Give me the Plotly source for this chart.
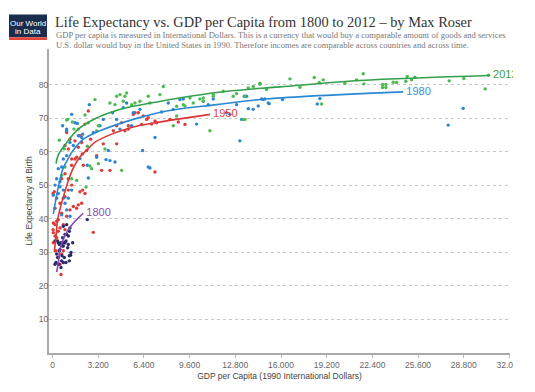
import plotly.graph_objects as go

# ---------------- data ----------------
x_tick_vals = [0, 3200, 6400, 9600, 12800, 16000, 19200, 22400, 25600, 28800, 32000]
x_tick_text = ["0", "3.200", "6.400", "9.600", "12.800", "16.000", "19.200", "22.400", "25.600", "28.800", "32.000"]
y_tick_vals = [10, 20, 30, 40, 50, 60, 70, 80]

years = ["1800", "1950", "1980", "2012"]

pts_1800 = [(175, 33.4), (408, 32.9), (525, 30.9), (641, 32.4), (758, 31.9), (875, 32.9), (1108, 32.4),
            (1224, 37.3), (991, 38.3), (875, 35.4), (1108, 34.9), (758, 37.8), (291, 29.5), (175, 26.5),
            (641, 27.5), (758, 27.0), (1271, 29.2), (408, 28.5), (2438, 39.8), (362, 33.4), (478, 32.4),
            (595, 32.9), (712, 31.9), (828, 32.9), (945, 33.4), (478, 30.4), (665, 29.0), (362, 28.5),
            (245, 27.0), (432, 26.5), (828, 28.5), (1062, 31.4), (1178, 29.0), (1295, 30.0), (712, 34.4),
            (991, 35.4), (1178, 36.3), (1412, 32.9), (595, 25.5), (945, 27.0), (1178, 27.5)]

pts_1950 = [(991, 65.8), (1224, 63.8), (1574, 63.3), (1924, 64.8), (2041, 62.8), (2274, 68.3), (2508, 72.2),
            (2671, 63.8), (1924, 48.1), (2111, 48.6), (2274, 47.6), (2158, 56.0), (1574, 57.9), (1341, 56.0),
            (3441, 54.5), (4258, 66.3), (4491, 67.8), (5074, 66.3), (5307, 66.8), (5657, 71.2), (6007, 71.7),
            (6357, 70.7), (6590, 69.7), (6940, 68.3), (7174, 54.0), (7291, 68.7),
            (875, 61.9), (1108, 60.9), (1342, 57.9), (1692, 58.4), (642, 52.0), (875, 53.5), (1108, 52.0),
            (1808, 61.4), (2088, 59.4), (2391, 60.4), (3091, 58.9), (3558, 62.4), (4025, 54.5), (4491, 62.4),
            (4841, 68.7), (5308, 67.8), (5775, 71.7), (6241, 68.2), (6708, 70.2),
            (7175, 69.2), (8225, 69.7), (8808, 68.9), (9275, 68.2),
            (128, 48.1), (292, 46.2), (525, 44.7), (175, 43.2), (642, 41.7), (408, 39.8), (58, 38.8),
            (758, 38.3), (992, 40.8), (1225, 42.7), (1458, 43.7), (1692, 43.2), (1808, 44.2), (2041, 44.7),
            (875, 46.6), (1108, 48.6), (1342, 50.1), (40, 47.6), (40, 36.8), (175, 34.9),
            (58, 32.9), (291, 34.4), (408, 36.3), (175, 38.3), (291, 39.3), (525, 37.3), (641, 29.5),
            (758, 30.5), (525, 26.5), (594, 23.4), (2857, 36.0), (875, 36.8), (58, 35.9), (245, 30.5)]

pts_1980 = [(58, 47.1), (711, 67.8), (991, 66.3), (1341, 71.2), (1738, 68.5), (1924, 58.0), (2111, 65.3),
            (2578, 74.1), (2438, 56.0), (2508, 52.2), (2858, 65.8), (3091, 58.4), (3324, 67.8), (3558, 69.7),
            (3744, 57.7), (3908, 60.4), (4024, 57.4), (4210, 71.7), (4374, 57.0), (4491, 69.7), (4724, 66.8),
            (4957, 73.2), (5190, 74.6), (5540, 67.8), (5657, 71.7), (6124, 72.7), (6310, 60.4), (6707, 55.5),
            (7174, 64.3), (7641, 71.9), (8107, 74.6), (8457, 72.7), (8923, 75.6), (10090, 68.3), (11256, 75.8),
            (13122, 63.3), (13239, 69.7), (13589, 76.6), (14056, 72.7), (14406, 73.7), (14756, 75.6),
            (15106, 74.6), (9158, 75.8), (10558, 75.1), (10908, 74.1), (12191, 71.7), (12424, 71.2),
            (12891, 74.1), (13428, 76.6), (13708, 72.9), (14641, 75.8), (14875, 75.8), (6825, 55.2),
            (15178, 74.4), (16111, 75.6), (18538, 74.3), (18724, 75.9), (27707, 68.0), (28757, 73.0),
            (175, 50.1), (408, 47.6), (758, 46.2), (875, 44.7), (1108, 46.2), (992, 42.7), (1225, 40.8),
            (642, 41.2), (758, 48.6), (525, 49.6), (1342, 48.6), (408, 55.0), (642, 55.5), (758, 57.9),
            (992, 58.9), (1225, 62.8), (1458, 61.9), (1808, 64.8), (2041, 64.3), (992, 66.8), (292, 52.0),
            (525, 51.1), (1575, 68.7)]

pts_2012 = [(478, 63.5), (828, 60.9), (991, 69.5), (1388, 68.9), (1504, 66.8), (1808, 66.8), (2274, 71.0),
            (2438, 61.7), (2624, 55.8), (2344, 49.5), (2974, 75.6), (3091, 66.3), (3208, 67.8), (4024, 74.6),
            (4491, 76.6), (4840, 54.5), (4957, 75.1), (5190, 77.6), (5540, 74.1), (5773, 74.6), (6124, 75.1),
            (6707, 76.6), (6824, 74.6), (7523, 77.1), (7757, 79.5), (9273, 73.7), (9623, 76.1), (10323, 75.8),
            (10556, 75.1), (11023, 66.3), (11256, 76.6), (11956, 78.1), (12656, 76.6), (13356, 69.7),
            (13706, 79.1), (14522, 80.2), (14989, 78.6), (1062, 69.7), (2508, 68.7), (2741, 55.0),
            (3208, 56.5), (3675, 60.9), (4375, 74.1), (4725, 77.1), (5075, 76.6), (1692, 51.5), (1342, 52.0),
            (875, 55.5), (642, 53.0), (8692, 73.6), (9158, 74.1), (9858, 74.6), (10558, 76.1), (11258, 77.1),
            (12891, 77.4), (13475, 76.6), (13475, 69.7), (14058, 79.5), (8458, 67.8), (8691, 70.7),
            (14525, 80.5), (16625, 81.8), (17325, 79.3), (18328, 82.2), (18678, 80.7), (18958, 81.5),
            (20474, 80.5), (21291, 81.5), (21757, 83.3), (21804, 80.3), (23111, 80.1), (23111, 79.2),
            (23344, 80.1), (23344, 79.2), (23857, 80.8), (24090, 80.7), (24743, 81.1), (24837, 82.5),
            (25140, 81.5), (25374, 82.3), (27776, 81.2), (28802, 81.9), (30296, 78.8), (30529, 82.9),
            (18842, 74.3)]

# fitted curves, points
curve_1800_x = [294, 406, 525, 756, 1106, 1575, 2157]
curve_1800_y = [24.1, 27.0, 30.9, 33.9, 36.8, 39.3, 41.7]
curve_1950_x = [126, 250, 385, 735, 1085, 1435, 1904, 2485, 2975, 4141, 5541, 7175, 11028]
curve_1950_y = [30.0, 35.0, 40.3, 46.2, 51.1, 55.0, 58.4, 60.9, 62.9, 65.3, 67.3, 68.7, 71.2]
curve_1980_x = [60, 385, 735, 1085, 1435, 2157, 3326, 5658, 7996, 11497, 14998, 24563]
curve_1980_y = [41.5, 49.1, 55.0, 57.9, 60.4, 63.8, 66.3, 69.7, 72.2, 74.1, 75.8, 77.9]
curve_2012_x = [250, 385, 735, 1806, 2976, 4145, 5308, 7177, 9628, 12198, 15927, 21529, 30634]
curve_2012_y = [56.5, 58.9, 61.3, 66.8, 69.9, 71.9, 73.3, 74.8, 76.6, 78.1, 79.4, 81.3, 82.8]

# ---------------- styling ----------------
point_colors = {"1800": "#2b2a6c", "1950": "#de3b3b", "1980": "#2a86d1", "2012": "#4cba50"}
line_colors = {"1800": "#8447b1", "1950": "#dd3535", "1980": "#2a88d2", "2012": "#33a04d"}
label_colors = {"1800": "#8e4db5", "1950": "#e0433e", "1980": "#3a8fd6", "2012": "#3a9c4c"}

points = {"1800": pts_1800, "1950": pts_1950, "1980": pts_1980, "2012": pts_2012}
curves = {"1800": (curve_1800_x, curve_1800_y), "1950": (curve_1950_x, curve_1950_y),
          "1980": (curve_1980_x, curve_1980_y), "2012": (curve_2012_x, curve_2012_y)}

fig = go.Figure()

for yr in ["1950", "1980", "2012", "1800"]:
    pts = points[yr]
    fig.add_trace(go.Scatter(
        x=[p[0] for p in pts], y=[p[1] for p in pts], mode="markers",
        marker=dict(size=3.4, color=point_colors[yr], line=dict(width=0)),
        showlegend=False, hoverinfo="skip"))

for yr in ["1950", "1980", "2012", "1800"]:
    cx, cy = curves[yr]
    fig.add_trace(go.Scatter(
        x=cx, y=cy, mode="lines", line=dict(color=line_colors[yr], width=1.6, shape="spline"),
        showlegend=False, hoverinfo="skip"))
    fig.add_trace(go.Scatter(
        x=[cx[-1]], y=[cy[-1]], mode="text", text=[" " + yr], textposition="middle right",
        textfont=dict(family="Liberation Sans", size=11, color=label_colors[yr]),
        cliponaxis=False, showlegend=False, hoverinfo="skip"))

# The page body has an 8px margin; the figure is sized so that it still
# fills the 535x392 window and the plot area lands where the reference has it.
OFF = 8
W, H = 535 - OFF, 392 - OFF
L, R, T, B = 49 - OFF, 25, 49 - OFF, 35
pw, ph = W - L - R, H - T - B


def px_x(p):
    # window pixel -> paper x
    return (p - OFF - L) / pw


def px_y(p):
    # window pixel -> paper y
    return (H - B - (p - OFF)) / ph


shapes = [
    # logo box
    dict(type="rect", xref="paper", yref="paper", x0=px_x(9), x1=px_x(47), y0=px_y(37), y1=px_y(14),
         fillcolor="#1b2d4f", line=dict(width=0), layer="above"),
    dict(type="rect", xref="paper", yref="paper", x0=px_x(9), x1=px_x(47), y0=px_y(40), y1=px_y(37),
         fillcolor="#e2463b", line=dict(width=0), layer="above"),
    # the reference is cut off on the right
    dict(type="rect", xref="paper", yref="paper", x0=px_x(513), x1=px_x(540), y0=px_y(392), y1=px_y(50),
         fillcolor="white", line=dict(width=0), layer="above"),
]

annotations = [
    dict(text="Life Expectancy vs. GDP per Capita from 1800 to 2012 \u2013 by Max Roser",
         xref="paper", yref="paper", x=px_x(53), y=px_y(22), xanchor="left", yanchor="middle",
         showarrow=False, font=dict(family="Liberation Serif", size=14.4, color="#333333")),
    dict(text="GDP per capita is measured in International Dollars. This is a currency that would buy a comparable amount of goods and services",
         xref="paper", yref="paper", x=px_x(54), y=px_y(34.5), xanchor="left", yanchor="middle",
         showarrow=False, font=dict(family="Liberation Serif", size=8.6, color="#777777")),
    dict(text="U.S. dollar would buy in the United States in 1990. Therefore incomes are comparable across countries and across time.",
         xref="paper", yref="paper", x=px_x(54), y=px_y(44.5), xanchor="left", yanchor="middle",
         showarrow=False, font=dict(family="Liberation Serif", size=8.6, color="#777777")),
    dict(text="Our World", xref="paper", yref="paper", x=px_x(28), y=px_y(23), xanchor="center",
         yanchor="middle", showarrow=False, font=dict(family="Liberation Sans", size=8, color="white")),
    dict(text="in Data", xref="paper", yref="paper", x=px_x(28), y=px_y(31.5), xanchor="center",
         yanchor="middle", showarrow=False, font=dict(family="Liberation Sans", size=8, color="white")),
]

fig.update_layout(
    width=W, height=H, margin=dict(l=L, r=R, t=T, b=B, pad=0),
    paper_bgcolor="white", plot_bgcolor="white",
    font=dict(family="Liberation Sans", color="#555555"),
    showlegend=False, shapes=shapes, annotations=annotations,
    xaxis=dict(range=[-245, 32035], tickvals=x_tick_vals, ticktext=x_tick_text,
               showgrid=False, zeroline=False, showline=True, linecolor="#aaaaaa", linewidth=1.5,
               ticks="outside", ticklen=3, tickcolor="#bbbbbb",
               tickfont=dict(size=8.5, color="#666666"),
               title=dict(text="GDP per Capita (1990 International Dollars)",
                          font=dict(size=8.5, color="#444444"), standoff=4)),
    yaxis=dict(range=[0, 90.7], tickvals=y_tick_vals, showgrid=True, gridcolor="#c8c8c8",
               griddash="dot", gridwidth=1, zeroline=False, showline=True, linecolor="#aaaaaa",
               linewidth=2, ticks="", ticklabelstandoff=-3,
               tickfont=dict(size=8.5, color="#666666"),
               title=dict(text="Life Expectancy at Birth", font=dict(size=8.5, color="#444444"),
                          standoff=5)),
)

fig.write_html("out.html")
